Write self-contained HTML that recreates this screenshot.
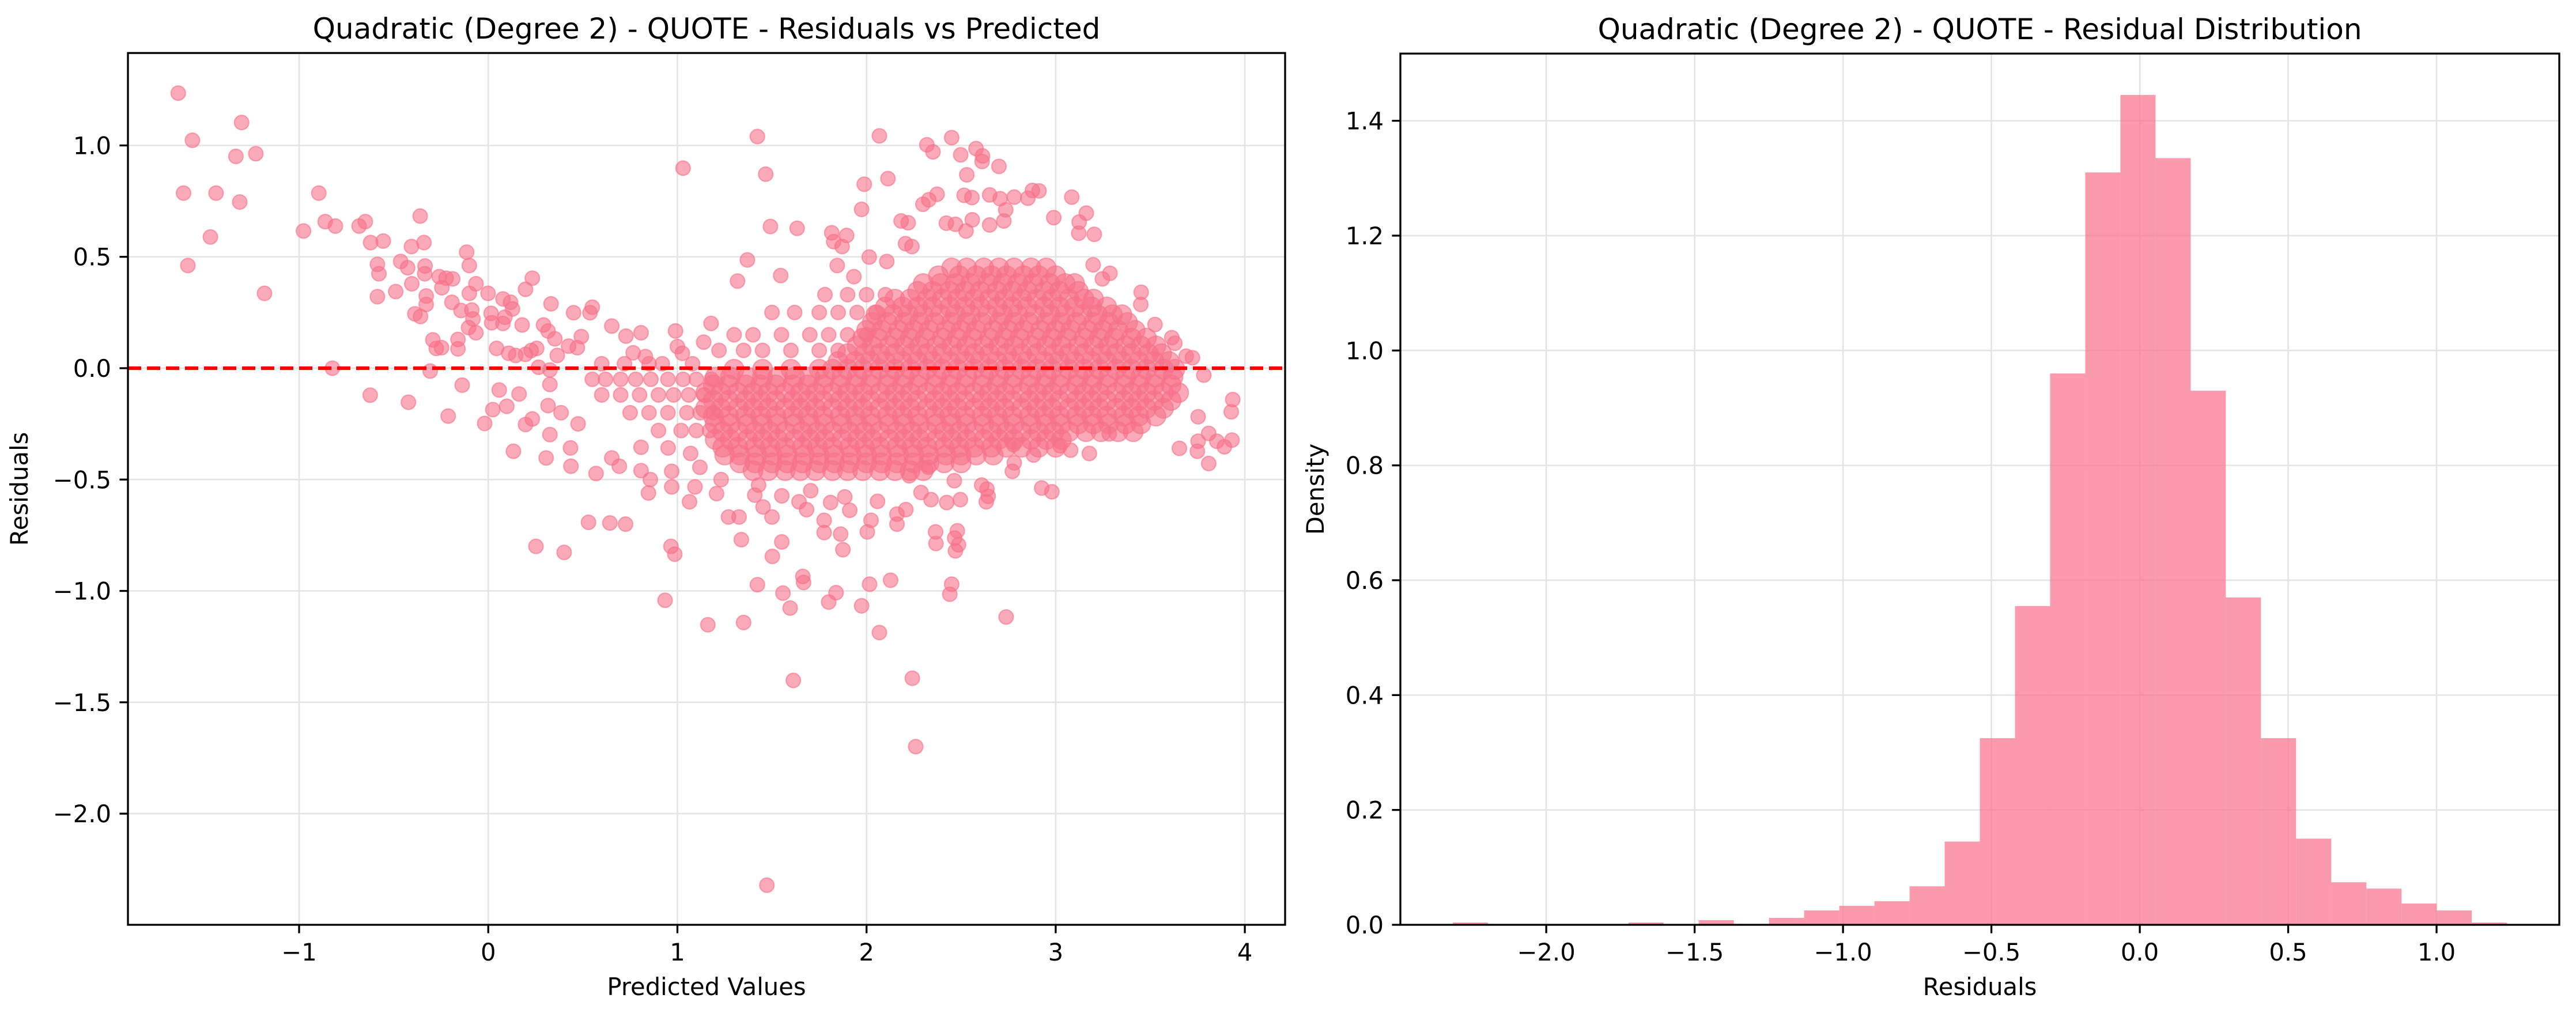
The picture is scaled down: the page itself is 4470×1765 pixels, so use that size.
<!DOCTYPE html>
<html><head><meta charset="utf-8"><style>
html,body{margin:0;padding:0;background:#fff;}
svg{display:block;font-family:"DejaVu Sans","Liberation Sans",sans-serif;}
</style></head><body>
<svg id="fig" width="4470" height="1765" viewBox="0 0 4470 1765" xmlns="http://www.w3.org/2000/svg">
<rect width="4470" height="1765" fill="#fff"/>
<g id="left"></g>
<g id="right"></g>
</svg>
<script>
// ---------- Scatter data (predicted, residual) ----------
const scatterPoints = [
[-1.639,1.235],[-1.564,1.023],[-1.304,1.103],[-1.334,0.951],[-1.229,0.963],[-1.611,0.786],[-1.439,0.786],[-1.314,0.746],[-1.469,0.589],[-1.588,0.461],[-1.183,0.336],
[-0.896,0.786],[-0.977,0.616],[-0.862,0.658],[-0.808,0.638],[-0.683,0.638],[-0.650,0.658],[-0.622,0.564],[-0.555,0.571],[-0.824,0.0],[-0.624,-0.121],
[-0.586,0.466],[-0.578,0.424],[-0.586,0.321],[-0.489,0.344],[-0.463,0.479],[-0.426,0.451],[-0.406,0.546],[-0.360,0.683],[-0.340,0.564],[-0.334,0.459],
[-0.336,0.424],[-0.404,0.379],[-0.328,0.324],[-0.328,0.286],[-0.388,0.244],[-0.358,0.232],[-0.293,0.127],[-0.275,0.089],[-0.247,0.092],[-0.307,-0.013],
[-0.422,-0.153],[-0.259,0.411],[-0.223,0.404],[-0.188,0.401],[-0.245,0.361],[-0.192,0.296],[-0.144,0.259],[-0.160,0.129],[-0.160,0.087],[-0.138,-0.076],
[-0.212,-0.215],[-0.114,0.521],[-0.100,0.461],[-0.065,0.379],[-0.100,0.336],[-0.087,0.261],[-0.081,0.221],[-0.104,0.182],[-0.065,0.159],[-0.001,0.336],
[0.015,0.246],[0.018,0.204],[0.078,0.311],[0.118,0.296],[0.128,0.266],[0.088,0.229],[0.078,0.201],[0.044,0.089],[0.108,0.067],[0.145,0.057],
[0.058,-0.098],[0.024,-0.186],[-0.019,-0.248],[0.098,-0.171],[0.163,-0.116],[0.197,0.354],[0.233,0.404],[0.332,0.289],[0.451,0.249],[0.538,0.249],
[0.550,0.274],[0.179,0.194],[0.292,0.194],[0.316,0.167],[0.352,0.132],[0.227,0.079],[0.256,0.089],[0.197,0.062],[0.266,0.004],[0.326,-0.008],
[0.365,0.057],[0.425,0.099],[0.492,0.142],[0.471,0.092],[0.326,-0.073],[0.316,-0.168],[0.385,-0.200],[0.475,-0.250],[0.233,-0.228],[0.197,-0.253],
[0.326,-0.298],[0.133,-0.373],[0.306,-0.403],[0.435,-0.358],[0.437,-0.440],[0.570,-0.473],[0.530,-0.692],[0.643,-0.695],[0.726,-0.700],[0.252,-0.800],
[0.401,-0.827],[0.653,-0.403],[0.693,-0.440],[0.808,-0.355],[0.808,-0.460],[0.857,-0.500],[0.847,-0.560],[0.653,0.189],[0.728,0.144],[0.808,0.159],
[0.766,0.069],[0.831,0.052],[0.990,0.167],[1.000,0.097],[1.026,0.067],[1.030,0.898],[1.139,0.117],[1.178,0.201],[0.966,-0.800],[0.986,-0.835],
[0.935,-1.042],[1.161,-1.152],[0.970,-0.533],[1.064,-0.600],[1.093,-0.533],[0.970,-0.463],[1.119,-0.445],[0.951,-0.358],[1.070,-0.383],
[0.55,-0.05],[0.62,-0.05],[0.70,-0.05],[0.78,-0.05],[0.86,-0.05],[0.95,-0.05],[1.03,-0.05],[1.10,-0.05],[1.18,-0.05],
[0.60,-0.12],[0.70,-0.12],[0.80,-0.12],[0.90,-0.12],[0.98,-0.12],[1.06,-0.12],[1.14,-0.12],
[0.75,-0.20],[0.85,-0.20],[0.95,-0.20],[1.05,-0.20],[1.12,-0.20],[1.19,-0.20],
[0.90,-0.28],[1.02,-0.28],[1.10,-0.28],[1.17,-0.28],[0.60,0.02],[0.72,0.02],[0.85,0.02],[0.92,0.02],[1.08,0.02],
[1.423,1.040],[2.068,1.043],[1.467,0.871],[1.492,0.636],[1.633,0.628],[1.370,0.486],[1.318,0.391],[1.546,0.416],[1.988,0.826],[2.113,0.851],
[1.974,0.713],[2.319,1.003],[2.351,0.971],[2.450,1.035],[2.498,0.958],[2.579,0.986],[2.613,0.953],[2.611,0.928],[2.530,0.868],[2.700,0.906],
[2.373,0.781],[2.298,0.736],[2.329,0.756],[2.516,0.776],[2.557,0.766],[2.651,0.778],[2.706,0.761],[2.781,0.768],[2.853,0.763],[2.877,0.798],
[2.912,0.796],[3.085,0.768],[2.990,0.676],[3.162,0.696],[3.124,0.656],[3.122,0.606],[3.204,0.601],[2.183,0.661],[2.220,0.653],[2.422,0.651],
[2.470,0.646],[2.559,0.666],[2.651,0.643],[2.736,0.711],[2.726,0.661],[2.526,0.616],[1.816,0.608],[1.895,0.596],[1.826,0.568],[1.871,0.546],
[1.845,0.461],[1.933,0.411],[2.014,0.499],[2.107,0.479],[2.206,0.559],[2.240,0.546],[3.452,0.341],[3.450,0.286],[3.525,0.196],[3.614,0.137],
[3.630,0.112],[3.690,0.054],[3.723,0.047],[3.783,-0.031],[3.936,-0.141],[3.928,-0.196],[3.753,-0.218],[3.809,-0.293],[3.753,-0.328],[3.852,-0.328],
[3.932,-0.323],[3.892,-0.353],[3.749,-0.373],[3.809,-0.428],[3.654,-0.360],[3.283,-0.295],[3.178,-0.383],[3.079,-0.368],[3.023,-0.348],[2.883,-0.390],
[2.777,-0.343],[2.781,-0.425],[2.771,-0.463],[2.926,-0.538],[2.980,-0.555],[2.637,-0.543],[2.643,-0.575],[2.633,-0.600],[2.609,-0.525],[2.464,-0.505],
[2.496,-0.590],[2.424,-0.603],[2.341,-0.590],[2.327,-0.445],[2.288,-0.558],[2.226,-0.483],[2.208,-0.635],[2.161,-0.700],[2.161,-0.655],[2.058,-0.598],
[2.024,-0.683],[2.004,-0.735],[2.365,-0.735],[2.367,-0.787],[2.480,-0.730],[2.466,-0.763],[2.486,-0.793],[2.470,-0.820],[2.450,-0.970],[2.440,-1.015],
[2.127,-0.952],[2.016,-0.970],[1.974,-1.067],[2.068,-1.187],[2.242,-1.392],[2.260,-1.699],[1.473,-2.321],[1.613,-1.402],[2.738,-1.117],[1.839,-1.008],
[1.800,-1.050],[1.663,-0.935],[1.667,-0.962],[1.558,-1.010],[1.596,-1.077],[1.423,-0.972],[1.350,-1.142],[1.502,-0.845],[1.552,-0.780],[1.338,-0.770],
[1.270,-0.668],[1.326,-0.668],[1.500,-0.668],[1.453,-0.623],[1.552,-0.573],[1.409,-0.570],[1.207,-0.563],[1.231,-0.500],[1.429,-0.525],[1.776,-0.683],
[1.776,-0.738],[1.863,-0.745],[1.875,-0.815],[1.911,-0.638],[1.643,-0.600],[1.683,-0.635],[1.810,-0.603],[1.885,-0.578],[1.705,-0.550],[3.287,0.426],
[3.247,0.401],[3.198,0.464],
[1.50,0.25],[1.62,0.25],[1.75,0.25],[1.85,0.25],[1.95,0.25],[2.05,0.25],[1.30,0.15],[1.40,0.15],[1.55,0.15],[1.70,0.15],[1.80,0.15],[1.90,0.15],[2.00,0.15],
[1.22,0.08],[1.35,0.08],[1.45,0.08],[1.60,0.08],[1.75,0.08],[1.85,0.08],[1.78,0.33],[1.90,0.33],[2.00,0.33],[2.10,0.33]
];
// dense core rows: [residual, predicted values...]
const coreRows = [
[0.45,[2.45,2.53,2.62,2.70,2.78,2.87,2.95]],
[0.415,[2.38,2.49,2.58,2.66,2.74,2.83,2.91,3.00]],
[0.38,[2.30,2.39,2.47,2.55,2.64,2.72,2.80,2.88,2.97,3.05,3.10]],
[0.345,[2.27,2.35,2.44,2.52,2.60,2.69,2.77,2.85,2.94,3.02,3.12]],
[0.31,[2.15,2.23,2.32,2.40,2.48,2.57,2.65,2.73,2.82,2.90,2.98,3.07,3.15,3.20]],
[0.275,[2.10,2.19,2.27,2.35,2.44,2.52,2.60,2.69,2.77,2.85,2.94,3.02,3.10,3.19,3.27]],
[0.24,[2.05,2.14,2.22,2.30,2.39,2.47,2.55,2.64,2.72,2.80,2.89,2.97,3.05,3.14,3.22,3.30,3.35]],
[0.205,[2.03,2.11,2.20,2.28,2.36,2.45,2.53,2.61,2.70,2.78,2.86,2.95,3.03,3.11,3.20,3.28,3.38]],
[0.17,[2.00,2.08,2.17,2.25,2.33,2.42,2.50,2.58,2.67,2.75,2.83,2.92,3.00,3.08,3.17,3.25,3.33,3.42]],
[0.135,[1.98,2.06,2.15,2.23,2.31,2.40,2.48,2.56,2.65,2.73,2.81,2.90,2.98,3.06,3.15,3.23,3.31,3.40,3.48]],
[0.10,[1.95,2.03,2.12,2.20,2.28,2.37,2.45,2.53,2.62,2.70,2.78,2.87,2.95,3.03,3.12,3.20,3.28,3.37,3.45,3.53]],
[0.065,[1.90,1.99,2.07,2.15,2.24,2.32,2.40,2.49,2.57,2.65,2.74,2.82,2.90,2.99,3.07,3.15,3.24,3.32,3.40,3.49,3.56]],
[0.03,[1.85,1.94,2.02,2.10,2.19,2.27,2.35,2.44,2.52,2.60,2.69,2.77,2.85,2.94,3.02,3.10,3.19,3.27,3.35,3.44,3.52,3.60]],
[-0.005,[1.30,1.45,1.60,1.75,1.82,1.90,1.98,2.07,2.15,2.23,2.32,2.40,2.48,2.57,2.65,2.73,2.82,2.90,2.98,3.07,3.15,3.23,3.32,3.40,3.48,3.57,3.63]],
[-0.04,[1.20,1.28,1.37,1.45,1.53,1.62,1.70,1.78,1.87,1.95,2.03,2.12,2.20,2.28,2.37,2.45,2.53,2.62,2.70,2.78,2.87,2.95,3.03,3.12,3.20,3.28,3.37,3.45,3.53,3.62]],
[-0.075,[1.19,1.27,1.36,1.44,1.52,1.61,1.69,1.77,1.86,1.94,2.02,2.11,2.19,2.27,2.36,2.44,2.52,2.61,2.69,2.77,2.86,2.94,3.02,3.11,3.19,3.27,3.36,3.44,3.52,3.61]],
[-0.11,[1.15,1.23,1.32,1.40,1.48,1.57,1.65,1.73,1.82,1.90,1.98,2.07,2.15,2.23,2.32,2.40,2.48,2.57,2.65,2.73,2.82,2.90,2.98,3.07,3.15,3.23,3.32,3.40,3.48,3.57,3.65]],
[-0.145,[1.19,1.27,1.36,1.44,1.52,1.61,1.69,1.77,1.86,1.94,2.02,2.11,2.19,2.27,2.36,2.44,2.52,2.61,2.69,2.77,2.86,2.94,3.02,3.11,3.19,3.27,3.36,3.44,3.52,3.61]],
[-0.18,[1.15,1.23,1.32,1.40,1.48,1.57,1.65,1.73,1.82,1.90,1.98,2.07,2.15,2.23,2.32,2.40,2.48,2.57,2.65,2.73,2.82,2.90,2.98,3.07,3.15,3.23,3.32,3.40,3.48,3.57]],
[-0.215,[1.19,1.27,1.36,1.44,1.52,1.61,1.69,1.77,1.86,1.94,2.02,2.11,2.19,2.27,2.36,2.44,2.52,2.61,2.69,2.77,2.86,2.94,3.02,3.11,3.19,3.27,3.36,3.44,3.53]],
[-0.25,[1.20,1.28,1.37,1.45,1.53,1.62,1.70,1.78,1.87,1.95,2.03,2.12,2.20,2.28,2.37,2.45,2.53,2.62,2.70,2.78,2.87,2.95,3.03,3.12,3.20,3.28,3.37,3.45]],
[-0.285,[1.24,1.32,1.41,1.49,1.57,1.66,1.74,1.82,1.91,1.99,2.07,2.16,2.24,2.32,2.41,2.49,2.57,2.66,2.74,2.82,2.91,2.99,3.07,3.16,3.24,3.33,3.41]],
[-0.32,[1.20,1.28,1.37,1.45,1.53,1.62,1.70,1.78,1.87,1.95,2.03,2.12,2.20,2.28,2.37,2.45,2.53,2.62,2.70,2.78,2.87,2.95,3.03]],
[-0.355,[1.24,1.32,1.41,1.49,1.57,1.66,1.74,1.82,1.91,1.99,2.07,2.16,2.24,2.32,2.41,2.49,2.57,2.66,2.74,2.82,2.91,3.00]],
[-0.39,[1.25,1.33,1.42,1.50,1.58,1.67,1.75,1.83,1.92,2.00,2.08,2.17,2.25,2.33,2.42,2.50,2.58,2.67]],
[-0.425,[1.33,1.41,1.50,1.58,1.66,1.75,1.83,1.91,2.00,2.08,2.16,2.25,2.33,2.41,2.50]],
[-0.46,[1.40,1.48,1.57,1.65,1.73,1.82,1.90,1.98,2.07,2.15,2.23,2.30]]
];
const scatterXTicks = [-1,0,1,2,3,4];
const scatterYTicks = [-2.0,-1.5,-1.0,-0.5,0.0,0.5,1.0];
const scatterYLabels = ["\u22122.0","\u22121.5","\u22121.0","\u22120.5","0.0","0.5","1.0"];

// ---------- Histogram data ----------
const binStart = -2.315;
const binWidth = 0.1184;
const densities = [0.004,0,0,0,0,0.004,0,0.008,0,0.012,0.025,0.033,0.041,0.067,0.145,0.325,0.555,0.96,1.31,1.445,1.335,0.93,0.57,0.325,0.15,0.074,0.063,0.037,0.025,0.004];
const histXTicks = [-2.0,-1.5,-1.0,-0.5,0.0,0.5,1.0];
const histXLabels = ["\u22122.0","\u22121.5","\u22121.0","\u22120.5","0.0","0.5","1.0"];
const histYTicks = [0,0.2,0.4,0.6,0.8,1.0,1.2,1.4];
const histYLabels = ["0.0","0.2","0.4","0.6","0.8","1.0","1.2","1.4"];

const NS="http://www.w3.org/2000/svg";
function mk(parent,tag,attrs,text){const e=document.createElementNS(NS,tag);for(const k in attrs)e.setAttribute(k,attrs[k]);if(text!==undefined)e.textContent=text;parent.appendChild(e);return e;}
function scale(d0,d1,r0,r1){return v=>r0+(v-d0)/(d1-d0)*(r1-r0);}

function axesFrame(g,box,xs,ys,xt,xl,yt){
  for(const v of xt){const l=mk(g,'line',{x1:xs(v),x2:xs(v),y1:box.t,y2:box.b,stroke:'#e4e4e4','stroke-width':2.6});
    
    }
  for(const v of yt){const l=mk(g,'line',{x1:box.l,x2:box.r,y1:ys(v),y2:ys(v),stroke:'#e4e4e4','stroke-width':2.6});
    
    }
}
function axesOver(g,box,xs,ys,xt,xl,yt,yl,title,xlabel,ylabel,ylabX,prefix){
  const f=mk(g,'rect',{x:box.l,y:box.t,width:box.r-box.l,height:box.b-box.t,fill:'none',stroke:'#000','stroke-width':3.3});
  
  
  xt.forEach((v,i)=>{mk(g,'line',{x1:xs(v),x2:xs(v),y1:box.b,y2:box.b+14.6,stroke:'#000','stroke-width':3.3});
    const t=mk(g,'text',{x:xs(v),y:box.b+62,'font-size':41.7,'text-anchor':'middle',fill:'#000'},xl[i]);
    
    });
  yt.forEach((v,i)=>{mk(g,'line',{x1:box.l-14.6,x2:box.l,y1:ys(v),y2:ys(v),stroke:'#000','stroke-width':3.3});
    const t=mk(g,'text',{x:box.l-29,y:ys(v)+15,'font-size':41.7,'text-anchor':'end',fill:'#000'},yl[i]);
    
    });
  const tt=mk(g,'text',{x:(box.l+box.r)/2,y:box.t-25,'font-size':50,'text-anchor':'middle',fill:'#000'},title);
  
  
  const xa=mk(g,'text',{x:(box.l+box.r)/2,y:box.b+122,'font-size':41.7,'text-anchor':'middle',fill:'#000'},xlabel);
  
  
  const cy=(box.t+box.b)/2;
  const ya=mk(g,'text',{x:ylabX,y:cy,'font-size':41.7,'text-anchor':'middle',transform:`rotate(-90 ${ylabX} ${cy})`,fill:'#000'},ylabel);
  
  
}

// ----- left scatter -----
(function(){
  const g=document.getElementById('left');
  const box={l:222,r:2230,t:92,b:1605};
  const xs=scale(-1.905,4.213,box.l,box.r), ys=scale(-2.499,1.415,box.b,box.t);
  axesFrame(g,box,xs,ys,scatterXTicks,null,scatterYTicks);
  const pts=mk(g,'g',{});
  
  
  for(const [x,y] of scatterPoints){
    const c=mk(pts,'circle',{cx:xs(x).toFixed(1),cy:ys(y).toFixed(1),r:12.5,fill:'#f77189','fill-opacity':0.6,stroke:'#f77189','stroke-opacity':0.6,'stroke-width':2.2});
    
    
  }
  for(const [y,xsList] of coreRows){for(const x of xsList){
    const c=mk(pts,'circle',{cx:xs(x).toFixed(1),cy:ys(y).toFixed(1),r:17,fill:'#f77189','fill-opacity':0.6,stroke:'#f77189','stroke-opacity':0.6,'stroke-width':2.2});
    
    
  }}
  const zl=mk(g,'line',{x1:box.l,x2:box.r,y1:ys(0),y2:ys(0),stroke:'#ff0000','stroke-width':6.25,'stroke-dasharray':'23 10'});
  
  
  axesOver(g,box,xs,ys,scatterXTicks,scatterXTicks.map(v=>v<0?'\u2212'+Math.abs(v):String(v)),scatterYTicks,scatterYLabels,
    'Quadratic (Degree 2) - QUOTE - Residuals vs Predicted','Predicted Values','Residuals',48,'scatter');
})();

// ----- right histogram -----
(function(){
  const g=document.getElementById('right');
  const box={l:2430,r:4441,t:93,b:1605};
  const xs=scale(-2.4915,1.4135,box.l,box.r), ys=scale(0,1.517,box.b,box.t);
  axesFrame(g,box,xs,ys,histXTicks,null,histYTicks);
  const bars=mk(g,'g',{});
  
  
  densities.forEach((d,i)=>{
    if(d<=0)return;
    const x0=xs(binStart+i*binWidth), x1=xs(binStart+(i+1)*binWidth);
    const r=mk(bars,'rect',{x:x0.toFixed(1),y:ys(d).toFixed(1),width:(x1-x0).toFixed(1),height:(box.b-ys(d)).toFixed(1),fill:'#f77189','fill-opacity':0.7});
    
    
  });
  axesOver(g,box,xs,ys,histXTicks,histXLabels,histYTicks,histYLabels,
    'Quadratic (Degree 2) - QUOTE - Residual Distribution','Residuals','Density',2297,'histogram');
})();
</script>
</body></html>
